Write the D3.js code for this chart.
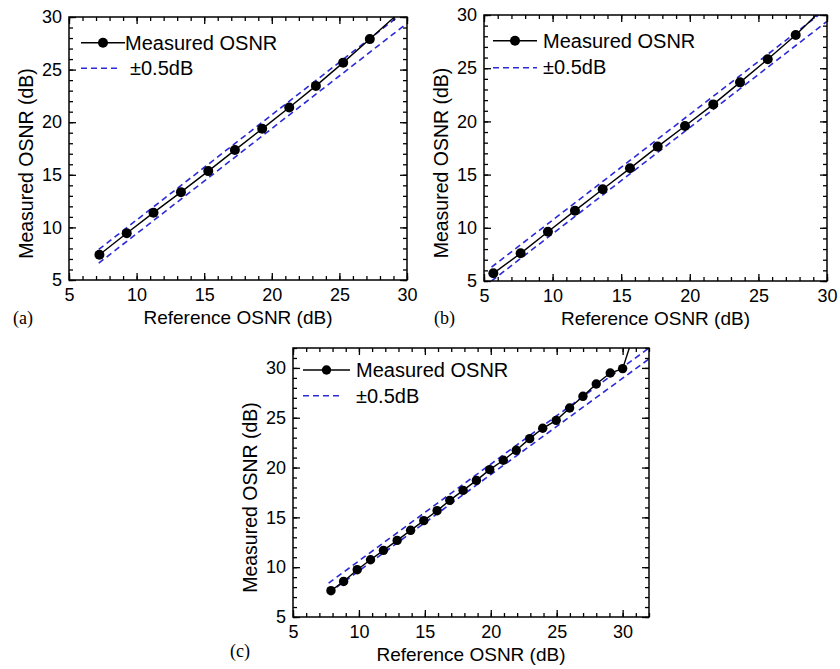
<!DOCTYPE html>
<html>
<head>
<meta charset="utf-8">
<script src="https://cdn.jsdelivr.net/npm/d3@7"></script>
<style>
body { margin: 0; background: #fff; }
svg { font-family: "Liberation Sans", Arial, sans-serif; }
</style>
</head>
<body>
<div id="chart-area"></div>
<script>
// ---- data ----
// (a)
var refA  = [7.25, 9.27, 11.25, 13.28, 15.3, 17.27, 19.29, 21.29, 23.26, 25.28, 27.25, 29.5];
var measA = [7.4, 9.44, 11.4, 13.35, 15.35, 17.35, 19.37, 21.4, 23.45, 25.66, 27.9, 30.5];
var boundXA = [7.2, 30], upperA = [7.9, 30.7], lowerA = [6.6, 29.4];

// (b)
var refB  = [5.68, 7.67, 9.66, 11.63, 13.65, 15.64, 17.66, 19.65, 21.71, 23.66, 25.68, 27.72, 29.7];
var measB = [5.72, 7.6, 9.63, 11.61, 13.62, 15.59, 17.63, 19.57, 21.6, 23.67, 25.84, 28.12, 30.6];
var boundXB = [5.55, 30], upperB = [6.3, 30.6], lowerB = [5.0, 29.4];

// (c)
var refC  = [7.88, 8.84, 9.87, 10.88, 11.86, 12.9, 13.92, 14.92, 15.93, 16.89, 17.9, 18.91,
             19.92, 20.95, 21.93, 22.95, 23.94, 24.96, 25.98, 26.99, 28.0, 29.06, 30.0, 31.0];
var measC = [7.64, 8.57, 9.75, 10.75, 11.69, 12.69, 13.7, 14.67, 15.67, 16.71, 17.71, 18.71,
             19.79, 20.73, 21.73, 22.9, 23.94, 24.74, 25.98, 27.15, 28.39, 29.49, 29.93, 34.0];
var boundXC = [7.7, 32], upperC = [8.4, 32.0], lowerC = [7.4, 30.9];

var majorTicks = [5, 10, 15, 20, 25, 30];
var legendLabels = ["Measured OSNR", "\u00b10.5dB"];
var xTitle = "Reference OSNR (dB)";
var yTitle = "Measured OSNR (dB)";

var blue = "#2a2ad8";

var svg = d3.select("#chart-area").append("svg")
    .attr("width", 840)
    .attr("height", 669);

var panels = [
    { tag: "(a)", tagX: 13, tagY: 324, left: 69, right: 407, top: 17, bottom: 280, max: 30,
      ref: refA, meas: measA, bx: boundXA, bu: upperA, bl: lowerA, r: 5,
      leg: { x0: 12, x1: 56, y1: 25.7, tx1: 56, ty1: 32.5, dx1: 49, y2: 51.3, tx2: 61, ty2: 57.5 } },
    { tag: "(b)", tagX: 434, tagY: 324, left: 484, right: 827, top: 15, bottom: 281, max: 30,
      ref: refB, meas: measB, bx: boundXB, bu: upperB, bl: lowerB, r: 5,
      leg: { x0: 9, x1: 53, y1: 25.7, tx1: 59, ty1: 32.7, dx1: 53, y2: 52.7, tx2: 59, ty2: 58.5 } },
    { tag: "(c)", tagX: 230, tagY: 657, left: 293, right: 649, top: 348, bottom: 617, max: 32,
      ref: refC, meas: measC, bx: boundXC, bu: upperC, bl: lowerC, r: 4.7,
      leg: { x0: 10, x1: 57, y1: 22, tx1: 63, ty1: 29, dx1: 50, y2: 47.7, tx2: 63, ty2: 55 } }
];

panels.forEach(function(p, i) {
    var w = p.right - p.left;
    var h = p.bottom - p.top;

    var x = d3.scaleLinear().domain([5, p.max]).range([0, w]);
    var y = d3.scaleLinear().domain([5, p.max]).range([h, 0]);

    var g = svg.append("g")
        .attr("transform", "translate(" + p.left + " " + p.top + ")");

    // clip for the data
    svg.append("clipPath").attr("id", "clip" + i)
        .append("rect").attr("width", w).attr("height", h);

    var plot = g.append("g").attr("clip-path", "url(#clip" + i + ")");

    // +-0.5dB bounds
    [p.bu, p.bl].forEach(function(b) {
        plot.append("line")
            .attr("x1", x(p.bx[0])).attr("y1", y(b[0]))
            .attr("x2", x(p.bx[1])).attr("y2", y(b[1]))
            .attr("stroke", blue)
            .attr("stroke-width", 1.6)
            .attr("stroke-dasharray", "6,4");
    });

    var pts = p.ref.map(function(d, k) { return [d, p.meas[k]]; });

    plot.append("path")
        .datum(pts)
        .attr("fill", "none")
        .attr("stroke", "#000")
        .attr("stroke-width", 1.4)
        .attr("d", d3.line()
            .x(function(d) { return x(d[0]); })
            .y(function(d) { return y(d[1]); }));

    plot.selectAll("circle")
        .data(pts).enter()
        .append("circle")
            .attr("cx", function(d) { return x(d[0]); })
            .attr("cy", function(d) { return y(d[1]); })
            .attr("r", p.r)
            .attr("fill", "#000");

    // minor ticks every 1 dB
    var minor = d3.range(5, p.max + 1);

    function styleAxis(a) {
        a.select(".domain").remove();
        a.selectAll("line").attr("stroke", "#000").attr("stroke-width", 1.3);
        a.selectAll("text").attr("font-size", 18).attr("fill", "#000");
    }

    // bottom
    g.append("g").attr("transform", "translate(0 " + h + ")")
        .call(d3.axisBottom(x).tickValues(minor).tickSize(-4).tickFormat("")).call(styleAxis);
    g.append("g").attr("transform", "translate(0 " + h + ")")
        .call(d3.axisBottom(x).tickValues(majorTicks).tickSize(-7).tickPadding(8).tickFormat(d3.format("d")))
        .call(styleAxis);
    // left
    g.append("g")
        .call(d3.axisLeft(y).tickValues(minor).tickSize(-4).tickFormat("")).call(styleAxis);
    g.append("g")
        .call(d3.axisLeft(y).tickValues(majorTicks).tickSize(-7).tickPadding(7).tickFormat(d3.format("d")))
        .call(styleAxis);
    // top + right mirror
    g.append("g")
        .call(d3.axisTop(x).tickValues(minor).tickSize(-4).tickFormat("")).call(styleAxis);
    g.append("g")
        .call(d3.axisTop(x).tickValues(majorTicks).tickSize(-7).tickFormat("")).call(styleAxis);
    g.append("g").attr("transform", "translate(" + w + " 0)")
        .call(d3.axisRight(y).tickValues(minor).tickSize(-4).tickFormat("")).call(styleAxis);
    g.append("g").attr("transform", "translate(" + w + " 0)")
        .call(d3.axisRight(y).tickValues(majorTicks).tickSize(-7).tickFormat("")).call(styleAxis);

    // frame
    g.append("rect")
        .attr("width", w).attr("height", h)
        .attr("fill", "none")
        .attr("stroke", "#000")
        .attr("stroke-width", 1.5);

    // legend
    var L = p.leg;
    g.append("line")
        .attr("x1", L.x0).attr("x2", L.x1).attr("y1", L.y1).attr("y2", L.y1)
        .attr("stroke", "#000").attr("stroke-width", 1.4);
    g.append("circle")
        .attr("cx", (L.x0 + L.x1) / 2).attr("cy", L.y1).attr("r", p.r).attr("fill", "#000");
    g.append("text")
        .attr("x", L.tx1).attr("y", L.ty1)
        .attr("font-size", 20)
        .text(legendLabels[0]);
    g.append("line")
        .attr("x1", L.x0).attr("x2", L.dx1).attr("y1", L.y2).attr("y2", L.y2)
        .attr("stroke", blue).attr("stroke-width", 1.6)
        .attr("stroke-dasharray", "6,4");
    g.append("text")
        .attr("x", L.tx2).attr("y", L.ty2)
        .attr("font-size", 20)
        .text(legendLabels[1]);

    // axis titles
    g.append("text")
        .attr("x", w / 2).attr("y", h + 44)
        .attr("text-anchor", "middle")
        .attr("font-size", 19)
        .text(xTitle);
    g.append("text")
        .attr("transform", "translate(-36 " + (h / 2 + 15) + ") rotate(-90)")
        .attr("text-anchor", "middle")
        .attr("font-size", 19.5)
        .text(yTitle);

    // panel tag
    svg.append("text")
        .attr("x", p.tagX).attr("y", p.tagY)
        .attr("font-family", "'Liberation Serif', 'Times New Roman', serif")
        .attr("font-size", 18)
        .text(p.tag);
});
</script>
</body>
</html>
